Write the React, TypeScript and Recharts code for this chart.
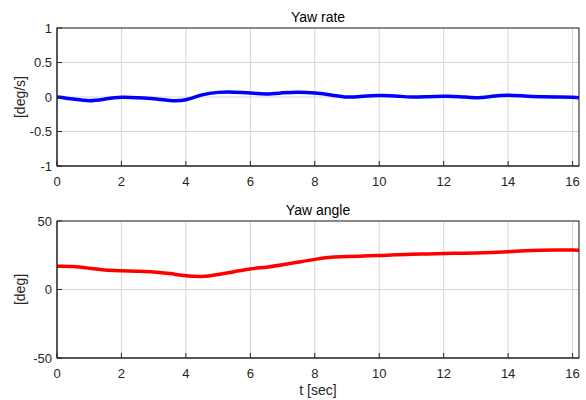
import { LineChart, Line, XAxis, YAxis, CartesianGrid } from 'recharts';

// time stamps [sec]
const time = [
  0, 0.5, 1, 1.5, 2, 2.5, 3, 3.5, 4, 4.5, 5, 5.5, 6, 6.5, 7, 7.5, 8, 8.5,
  9, 9.5, 10, 10.5, 11, 11.5, 12, 12.5, 13, 13.5, 14, 14.5, 15, 15.5, 16, 16.2,
];

// yaw rate [deg/s]
const yawRate = [
  0.0, -0.03, -0.054, -0.03, -0.005, -0.01, -0.025, -0.05, -0.04, 0.03, 0.067, 0.07,
  0.058, 0.045, 0.06, 0.07, 0.058, 0.03, 0.0, 0.01, 0.02, 0.015, 0.0, 0.005,
  0.01, 0.005, -0.01, 0.01, 0.025, 0.015, 0.005, 0.0, -0.005, -0.01,
];

// yaw angle [deg]
const yawAngle = [
  17, 16.8, 15.5, 14.2, 13.7, 13.3, 12.8, 11.6, 10, 9.5, 11, 13, 15, 16.3, 18,
  20, 22, 23.5, 24.1, 24.4, 24.8, 25.3, 25.8, 26, 26.3, 26.5, 26.6, 27,
  27.6, 28.2, 28.6, 28.8, 28.8, 28.7,
];

const xTicks = [0, 2, 4, 6, 8, 10, 12, 14, 16];
const rateTicks = [-1, -0.5, 0, 0.5, 1];
const angleTicks = [-50, 0, 50];
const tMax = 16.2;

const rateData = time.map((t, i) => ({ t, v: yawRate[i] }));
const angleData = time.map((t, i) => ({ t, v: yawAngle[i] }));

const W = 586;
const RIGHT = 7;
const FONT = '"Liberation Sans", Arial, Helvetica, sans-serif';
const AXIS = '#262626';
const GRID = '#d6d6d6';
const tickStyle = { fontSize: 13, fill: AXIS, fontFamily: FONT };

// y label, panel title and the axes box (MATLAB "box on")
const yLabel = (text: string, title: string) => (props: any) => {
  const vb = props.viewBox;
  const cx = 20;
  const cy = vb.y + vb.height / 2;
  const left = vb.x + vb.width;
  const right = W - RIGHT;
  return (
    <g>
      <rect
        x={left}
        y={vb.y}
        width={right - left}
        height={vb.height}
        fill="none"
        stroke={AXIS}
        strokeWidth={1}
      />
      <text
        x={cx}
        y={cy}
        transform={`rotate(-90 ${cx} ${cy})`}
        textAnchor="middle"
        dominantBaseline="central"
        fontSize={14}
        fill={AXIS}
        fontFamily={FONT}
      >
        {text}
      </text>
      <text
        x={(left + right) / 2}
        y={vb.y - 6}
        textAnchor="middle"
        fontSize={14}
        fill="#000"
        fontFamily={FONT}
      >
        {title}
      </text>
    </g>
  );
};

const xLabel = (text: string) => (props: any) => {
  const vb = props.viewBox;
  return (
    <text
      x={vb.x + vb.width / 2}
      y={vb.y + 37}
      textAnchor="middle"
      fontSize={14}
      fill={AXIS}
      fontFamily={FONT}
    >
      {text}
    </text>
  );
};

function Panel({
  data,
  color,
  domain,
  yTicks,
  title,
  ylabel,
  height,
  top,
  xAxisHeight,
  showXLabel,
}: {
  data: { t: number; v: number }[];
  color: string;
  domain: [number, number];
  yTicks: number[];
  title: string;
  ylabel: string;
  height: number;
  top: number;
  xAxisHeight: number;
  showXLabel?: boolean;
}) {
  return (
    <LineChart
      width={W}
      height={height}
      data={data}
      margin={{ top, right: RIGHT, bottom: 0, left: 0 }}
    >
      <CartesianGrid stroke={GRID} strokeWidth={1} />
      <XAxis
        dataKey="t"
        type="number"
        domain={[0, tMax]}
        ticks={xTicks}
        allowDataOverflow
        height={xAxisHeight}
        tickSize={-5}
        tickMargin={16}
        stroke={AXIS}
        tick={tickStyle}
        label={showXLabel ? { content: xLabel('t [sec]') } : undefined}
      />
      <YAxis
        type="number"
        domain={domain}
        ticks={yTicks}
        allowDataOverflow
        width={57}
        tickSize={-5}
        tickMargin={10}
        stroke={AXIS}
        tick={tickStyle}
        label={{ content: yLabel(ylabel, title) }}
      />
      <Line
        type="natural"
        dataKey="v"
        stroke={color}
        strokeWidth={3.5}
        dot={false}
        isAnimationActive={false}
      />
    </LineChart>
  );
}

export default function App() {
  return (
    <div
      style={{
        position: 'absolute',
        left: 0,
        top: 0,
        width: W,
        height: 400,
        background: '#fff',
        fontFamily: FONT,
      }}
    >
      <Panel
        data={rateData}
        color="#0000ff"
        domain={[-1, 1]}
        yTicks={rateTicks}
        title="Yaw rate"
        ylabel="[deg/s]"
        height={195}
        top={28}
        xAxisHeight={29}
      />
      <Panel
        data={angleData}
        color="#ff0000"
        domain={[-50, 50]}
        yTicks={angleTicks}
        title="Yaw angle"
        ylabel="[deg]"
        height={205}
        top={26}
        xAxisHeight={42}
        showXLabel
      />
    </div>
  );
}
